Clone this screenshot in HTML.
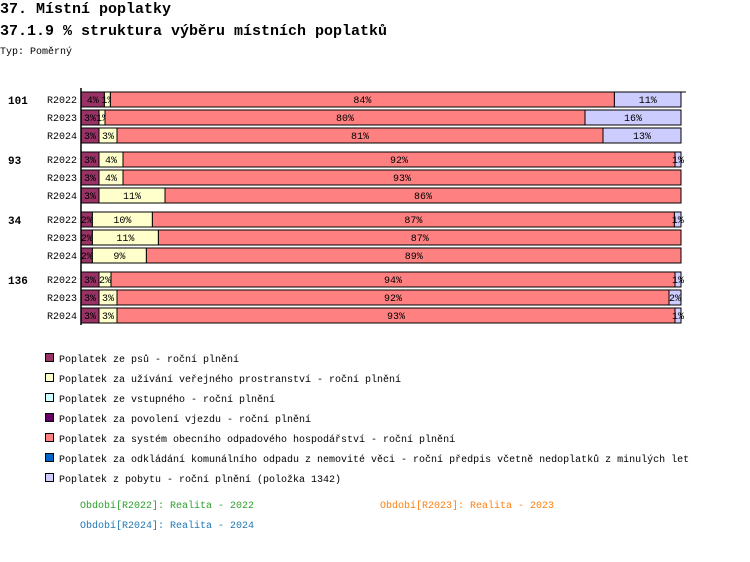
<!DOCTYPE html>
<html><head><meta charset="utf-8"><style>
body{margin:0;background:#fff;width:750px;height:562px;overflow:hidden;font-family:"Liberation Mono",monospace;}
svg{display:block}
</style></head><body>
<svg id="chart" width="750" height="562" xmlns="http://www.w3.org/2000/svg" font-family="Liberation Mono, monospace">
<text x="0" y="13" font-size="15" font-weight="bold">37. Místní poplatky</text>
<text x="0" y="35" font-size="15" font-weight="bold">37.1.9 % struktura výběru místních poplatků</text>
<text x="0" y="54" font-size="10">Typ: Poměrný</text>
<g id="bars"></g>
<g id="legend"></g>
<text x="80" y="508" font-size="10" fill="#2ca02c">Období[R2022]: Realita - 2022</text>
<text x="380" y="508" font-size="10" fill="#ff7f0e">Období[R2023]: Realita - 2023</text>
<text x="80" y="528" font-size="10" fill="#1f77b4">Období[R2024]: Realita - 2024</text>
</svg>
<script>
const groups = ["101","93","34","136"];
const periods = ["R2022","R2023","R2024"];
const seriesNames = ["Poplatek ze psů - roční plnění","Poplatek za užívání veřejného prostranství - roční plnění","Poplatek ze vstupného - roční plnění","Poplatek za povolení vjezdu - roční plnění","Poplatek za systém obecního odpadového hospodářství - roční plnění","Poplatek za odkládání komunálního odpadu z nemovité věci - roční předpis včetně nedoplatků z minulých let","Poplatek z pobytu - roční plnění (položka 1342)"];
const seriesColors = ["#993366","#ffffcc","#ccffff","#660066","#ff8080","#0066cc","#ccccff"];
// values per row [psi, uzivani, vstupne, vjezd, odpad, odkladani, pobyt]
const values = [
 [3.9,1.0,0,0,84.0,0,11.1],
 [3.0,1.0,0,0,80.0,0,16.0],
 [3.0,3.0,0,0,81.0,0,13.0],
 [3.0,4.0,0,0,92.0,0,1.0],
 [3.0,4.0,0,0,93.0,0,0],
 [3.0,11.0,0,0,86.0,0,0],
 [1.9,10.0,0,0,87.0,0,1.1],
 [1.9,11.0,0,0,87.1,0,0],
 [1.9,9.0,0,0,89.1,0,0],
 [3.0,2.0,0,0,94.0,0,1.0],
 [3.0,3.0,0,0,92.0,0,2.0],
 [3.0,3.0,0,0,93.0,0,1.0]
];
const NS="http://www.w3.org/2000/svg";
const X0=81, W=600;
const xs = v => X0 + v/100*W;
const rowY = (g,p) => 92 + g*60 + p*18;
const bars=document.getElementById('bars');
function mk(tag,attrs,parent){const e=document.createElementNS(NS,tag);for(const k in attrs)e.setAttribute(k,attrs[k]);parent.appendChild(e);return e;}
groups.forEach((g,gi)=>{
  const gt=mk('text',{x:8,y:rowY(gi,0)+12,'font-size':11,'font-weight':'bold'},bars);
  
  
  gt.textContent=g;
  periods.forEach((p,pi)=>{
    const y=rowY(gi,pi);
    const pt=mk('text',{x:47,y:y+11,'font-size':10},bars);
    
    
    pt.textContent=p;
    const row=values[gi*3+pi];
    const tot=row.reduce((a,b)=>a+b,0);
    let acc=0;
    row.forEach((v,si)=>{
      if(v<=0)return;
      const x1=xs(acc/tot*100), x2=xs((acc+v)/tot*100);
      acc+=v;
      const r=mk('rect',{x:x1,y:y,width:x2-x1,height:15,fill:seriesColors[si],stroke:'#000','stroke-width':1},bars);
      
      
      const t=mk('text',{x:(x1+x2)/2,y:y+11,'font-size':10,'text-anchor':'middle'},bars);
      
      
      t.textContent=Math.round(v)+'%';
    });
  });
});
const ax=mk('line',{x1:X0,y1:88,x2:X0,y2:325,stroke:'#000','stroke-width':1.5},bars);


const tl=mk('line',{x1:X0,y1:92,x2:686,y2:92,stroke:'#000','stroke-width':1},bars);


const leg=document.getElementById('legend');
seriesNames.forEach((n,i)=>{
  const y=358+i*20;
  const r=mk('rect',{x:45.5,y:y-4.5,width:8,height:8,fill:seriesColors[i],stroke:'#000','stroke-width':1},leg);
  
  
  const t=mk('text',{x:59,y:y+4,'font-size':10},leg);
  
  
  t.textContent=n;
});
</script>
</body></html>
